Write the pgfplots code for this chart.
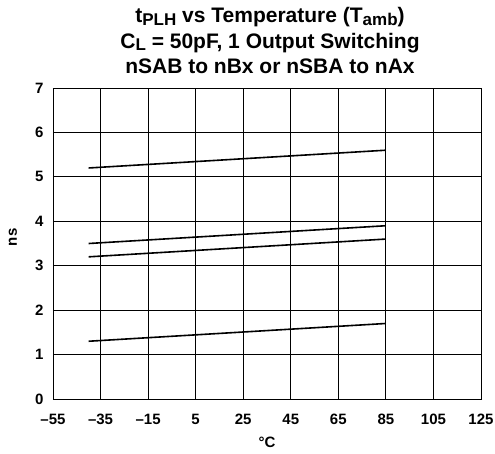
\documentclass[border=0pt]{standalone}
\usepackage{fontspec}
\setmainfont{Liberation Sans}
\usepackage{pgfplots}
\pgfplotsset{compat=1.18}
\newcommand{\sub}[1]{{\fontsize{17}{18}\selectfont\raisebox{-0.3ex}{#1}}}
\begin{document}
\begin{tikzpicture}
\useasboundingbox (-53pt,-54pt) rectangle (442pt,399pt);
\begin{axis}[
    at={(0,0)}, anchor=south west,
    scale only axis, width=428pt, height=311pt,
    xmin=-55, xmax=125, ymin=0, ymax=7,
    xtick={-55,-35,...,125}, ytick={0,1,...,7},
    xticklabels={\textendash55,\textendash35,\textendash15,5,25,45,65,85,105,125},
    grid=major, grid style={black, line width=0.8pt},
    axis line style={black, line width=0.8pt},
    major tick length=0pt,
    /pgf/number format/assume math mode=true,
    ticklabel style={font=\bfseries\fontsize{15}{17}\selectfont},
    xticklabel style={text height=11pt, text depth=0pt, yshift=-11pt},
    yticklabel style={xshift=-6pt},
    xlabel={\textdegree C}, ylabel={ns},
    label style={font=\bfseries\fontsize{15}{17}\selectfont},
    xlabel style={at={(axis description cs:0.5,0)}, anchor=center, yshift=-43pt},
    ylabel style={at={(axis description cs:0,0.52)}, anchor=center, yshift=40pt},
    title={t\sub{PLH} vs Temperature (T\sub{amb})\\
           C\sub{L} = 50pF, 1 Output Switching\\
           nSAB to nBx or nSBA to nAx},
    title style={font=\bfseries\fontsize{21}{25.5}\selectfont, align=center,
        at={(0.5,1)}, anchor=south, inner sep=0pt, yshift=8pt, xshift=3pt},
]
\addplot[black, line width=1.6pt] coordinates {(-40,5.2) (85,5.6)};
\addplot[black, line width=1.6pt] coordinates {(-40,3.5) (85,3.9)};
\addplot[black, line width=1.6pt] coordinates {(-40,3.2) (85,3.6)};
\addplot[black, line width=1.6pt] coordinates {(-40,1.3) (85,1.7)};
\end{axis}
\end{tikzpicture}
\end{document}
